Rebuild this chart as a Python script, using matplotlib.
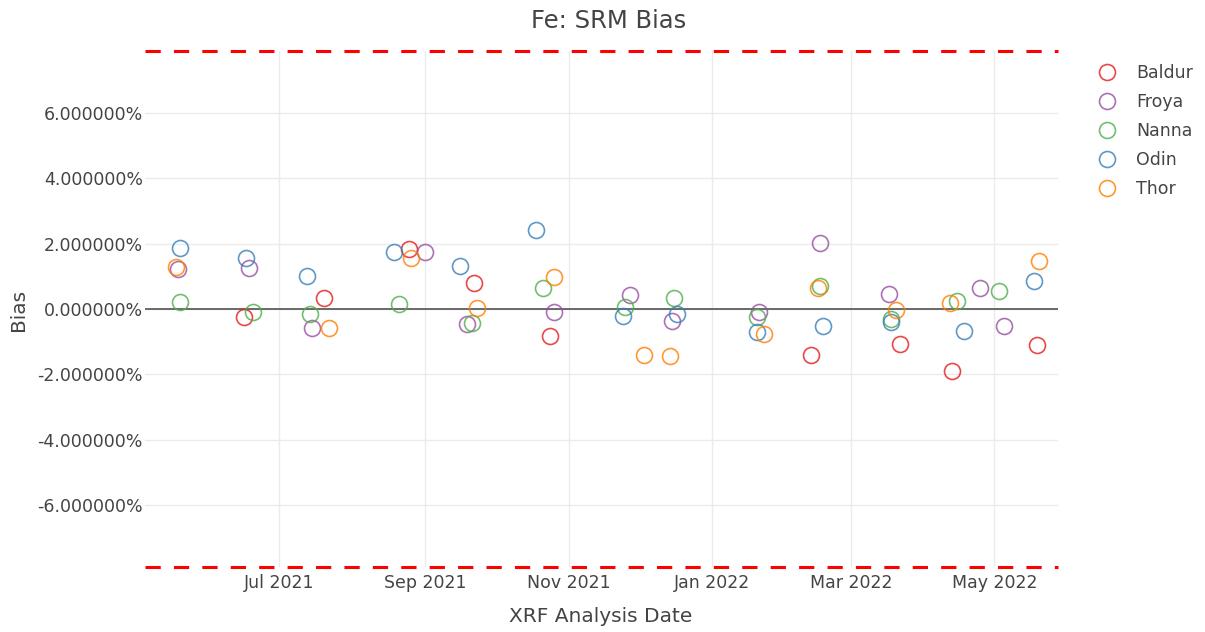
import matplotlib.pyplot as plt
import matplotlib.dates as mdates
import matplotlib.ticker as mticker
import pandas as pd

plt.rcParams['font.family'] = ['DejaVu Sans']

# Bias (%) per instrument
baldur_dates = ['2021-06-16', '2021-07-20', '2021-08-25', '2021-09-22', '2021-10-24',
                '2022-02-12', '2022-03-22', '2022-04-13', '2022-05-19']
baldur_bias = [-0.25, 0.34, 1.83, 0.80, -0.83, -1.41, -1.07, -1.90, -1.10]

froya_dates = ['2021-05-19', '2021-06-18', '2021-07-15', '2021-09-01', '2021-09-19',
               '2021-10-26', '2021-11-27', '2021-12-15', '2022-01-21', '2022-02-16',
               '2022-03-17', '2022-04-25', '2022-05-05']
froya_bias = [1.22, 1.25, -0.58, 1.74, -0.46, -0.09, 0.43, -0.37, -0.09, 2.02,
              0.46, 0.64, -0.52]

nanna_dates = ['2021-05-20', '2021-06-20', '2021-07-14', '2021-08-21', '2021-09-21',
               '2021-10-21', '2021-11-25', '2021-12-16', '2022-01-20', '2022-02-16',
               '2022-03-18', '2022-04-15', '2022-05-03']
nanna_bias = [0.21, -0.09, -0.15, 0.15, -0.43, 0.64, 0.06, 0.34, -0.25, 0.70,
              -0.31, 0.24, 0.55]

odin_dates = ['2021-05-20', '2021-06-17', '2021-07-13', '2021-08-19', '2021-09-16',
              '2021-10-18', '2021-11-24', '2021-12-17', '2022-01-20', '2022-02-17',
              '2022-03-18', '2022-04-18', '2022-05-18']
odin_bias = [1.87, 1.56, 1.00, 1.74, 1.31, 2.42, -0.21, -0.15, -0.70, -0.52,
             -0.40, -0.67, 0.86]

thor_dates = ['2021-05-18', '2021-07-22', '2021-08-26', '2021-09-23', '2021-10-26',
              '2021-12-03', '2021-12-14', '2022-01-23', '2022-02-15', '2022-03-20',
              '2022-04-12', '2022-05-20']
thor_bias = [1.28, -0.58, 1.56, 0.03, 0.98, -1.41, -1.44, -0.76, 0.64, -0.03,
             0.18, 1.47]

limit = 7.9
x_range = ['2021-05-05', '2022-05-28']
y_ticks = [-6, -4, -2, 0, 2, 4, 6]

series = [
    ('Baldur', baldur_dates, baldur_bias, '#e41a1c'),
    ('Froya', froya_dates, froya_bias, '#984ea3'),
    ('Nanna', nanna_dates, nanna_bias, '#4daf4a'),
    ('Odin', odin_dates, odin_bias, '#377eb8'),
    ('Thor', thor_dates, thor_bias, '#ff7f00'),
]

txt = '#444444'
fig = plt.figure(figsize=(12.05, 6.32), dpi=100)
ax = fig.add_axes([145/1205, 1-567/632, (1058-145)/1205, (567-51)/632])

for name, d, v, c in series:
    ax.plot(pd.to_datetime(d), v, linestyle='none', marker='o', markersize=11.5,
            markerfacecolor='none', markeredgecolor=c, markeredgewidth=1.2,
            alpha=0.8, label=name, zorder=3)

# zero line and limit lines
ax.axhline(0, color=txt, lw=1.1, zorder=2)
ax.axhline(limit, color='red', lw=2.2, dashes=(5, 4.3), zorder=4, clip_on=False)
ax.axhline(-limit, color='red', lw=2.2, dashes=(5, 4.3), zorder=4, clip_on=False)

ax.set_xlim(pd.to_datetime(x_range[0]), pd.to_datetime(x_range[1]))
ax.set_ylim(-limit, limit)
ax.set_yticks(y_ticks)
ax.yaxis.set_major_formatter(mticker.FuncFormatter(lambda v, p: '%.6f%%' % v))
ax.xaxis.set_major_locator(mdates.MonthLocator(bymonth=[1, 3, 5, 7, 9, 11]))
ax.xaxis.set_major_formatter(mdates.DateFormatter('%b %Y'))

ax.grid(True, color='#ebebeb', lw=1)
ax.set_axisbelow(True)
for s in ax.spines.values():
    s.set_visible(False)
ax.tick_params(length=0, labelsize=12.5, colors=txt)
ax.tick_params(axis='y', pad=1.5)
ax.tick_params(axis='x', pad=5)

fig.text(601/1205, 1-617/632, 'XRF Analysis Date', fontsize=14.5, color=txt,
         ha='center', va='center')
fig.text(19/1205, 1-310/632, 'Bias', fontsize=14.5, color=txt, rotation=90,
         ha='center', va='center')
fig.text(0.505, 1-21/632, 'Fe: SRM Bias', fontsize=17.5, color=txt,
         ha='center', va='center')

leg = ax.legend(loc='upper left', bbox_to_anchor=(1098/1205, 1-64/632),
                bbox_transform=fig.transFigure, frameon=False, fontsize=12.5,
                labelspacing=0.64, handlelength=1.0, handletextpad=1.2,
                borderpad=0, borderaxespad=0)
for t in leg.get_texts():
    t.set_color(txt)

fig.savefig('out.png', dpi=100)
